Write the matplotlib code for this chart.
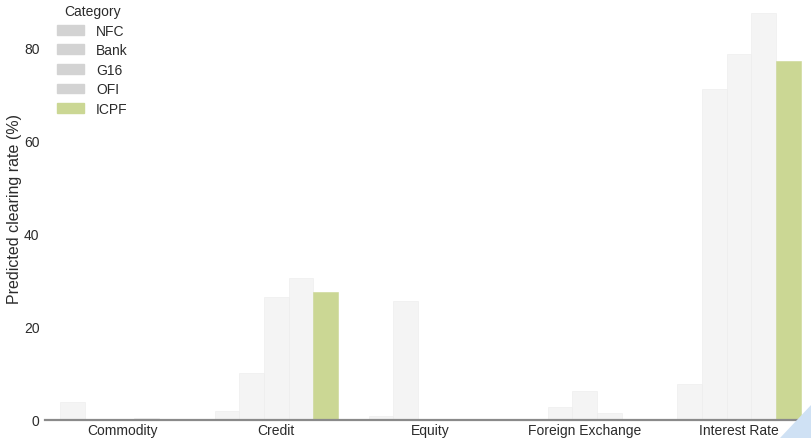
"""Predicted clearing rate by asset class, ICPF highlighted."""

import matplotlib.pyplot as plt
import numpy as np
from matplotlib.patches import Polygon

plt.rcParams["font.family"] = ["Liberation Sans", "DejaVu Sans"]

asset_classes = ["Commodity", "Credit", "Equity", "Foreign Exchange", "Interest Rate"]
sectors = ["NFC", "Bank", "G16", "OFI", "ICPF"]

# predicted clearing rate (%) per sector, one value per asset class
nfc = [3.9, 2.0, 0.8, 0.0, 7.7]
bank = [0.0, 10.2, 25.6, 2.7, 71.2]
g16 = [0.1, 26.4, 0.1, 6.2, 78.7]
ofi = [0.5, 30.5, 0.3, 1.4, 87.5]
icpf = [0.2, 27.5, 0.2, 0.2, 77.2]

GREY_BAR = "#f4f4f4"
GREY_LEGEND = "#d3d3d3"
GREEN = "#cbd794"
TEXT = "#2b2b2b"

W, H = 812, 439
fig = plt.figure(figsize=(W / 100, H / 100), dpi=100)
ax = fig.add_axes([45 / W, 18 / H, 771 / W, 428 / H])

x = np.arange(len(asset_classes))
width = 0.16
series = [nfc, bank, g16, ofi, icpf]
for i, (name, values) in enumerate(zip(sectors, series)):
    face = GREEN if name == "ICPF" else GREY_BAR
    ax.bar(x + (i - 2) * width, values, width, color=face,
           edgecolor="#ececec" if name != "ICPF" else GREEN, linewidth=0.4,
           zorder=2)

ax.set_xlim(-0.5, 4.5)
ax.set_ylim(0, 92)
ax.set_xticks(x)
ax.set_xticklabels(asset_classes, fontsize=10, color=TEXT)
ax.set_yticks([0, 20, 40, 60, 80])
ax.tick_params(axis="both", length=0, labelsize=10, labelcolor=TEXT)
ax.tick_params(axis="x", pad=2)
ax.tick_params(axis="y", pad=4)

for side in ("top", "right", "left"):
    ax.spines[side].set_visible(False)
ax.spines["bottom"].set_color("#8a8a8a")
ax.spines["bottom"].set_linewidth(1.6)
ax.spines["bottom"].set_zorder(3)

ax.set_ylabel("Predicted clearing rate (%)", fontsize=11.5, color=TEXT)
ax.yaxis.set_label_coords(-23 / 771, (421 - 209) / 428)

handles = [plt.Rectangle((0, 0), 1, 1, color=GREEN if s == "ICPF" else GREY_LEGEND)
           for s in sectors]
leg = ax.legend(handles, sectors, title="Category", loc="upper left",
                frameon=False, fontsize=10, title_fontsize=10,
                handlelength=1.95, handleheight=0.7, handletextpad=0.85,
                labelspacing=0.4, borderaxespad=0.0, borderpad=0.0)
leg.set_bbox_to_anchor((57 / W, 1 - 5 / H), transform=fig.transFigure)
leg.get_title().set_color(TEXT)
for t in leg.get_texts():
    t.set_color(TEXT)

# light blue corner shape visible in the bottom right of the original
corner = Polygon([(780 / W, 0), (1.0, 34 / H), (1.0, 0)], closed=True,
                 transform=fig.transFigure, facecolor="#cfe1f4",
                 edgecolor="none", zorder=0)
fig.patches.append(corner)
ax.set_facecolor("none")

fig.savefig("out.png", dpi=100)
plt.close(fig)
